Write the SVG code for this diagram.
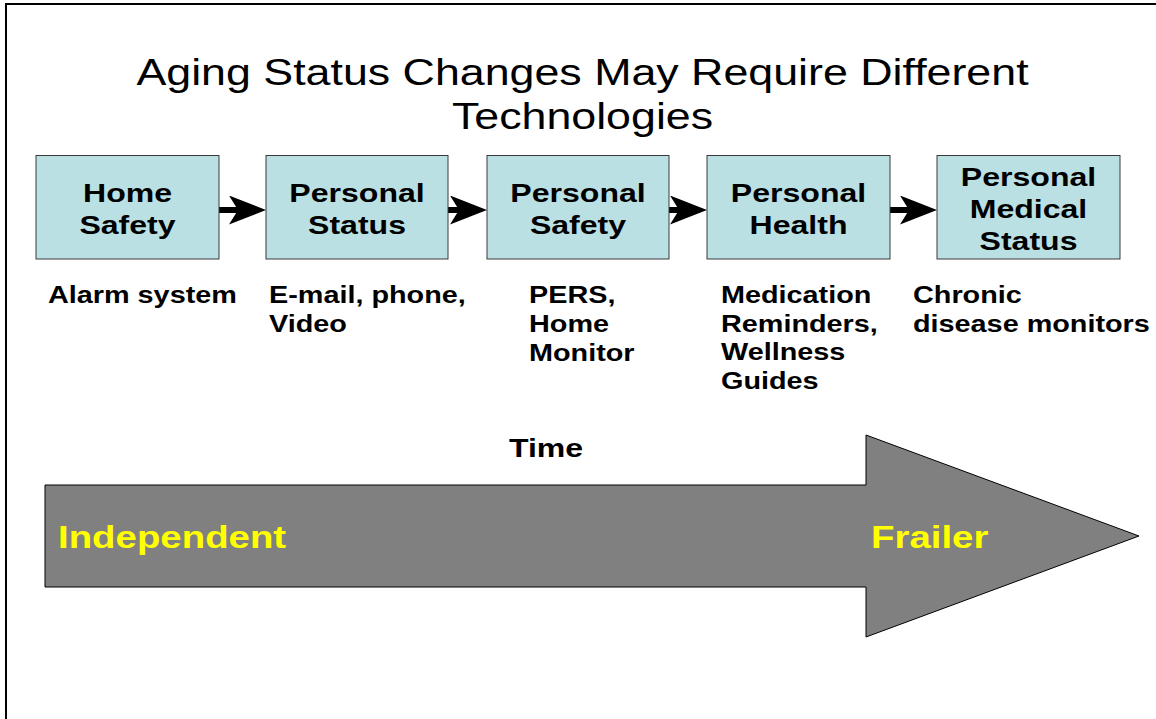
<svg xmlns="http://www.w3.org/2000/svg" width="1156" height="719" viewBox="0 0 1156 719">
<style>
  text { font-family: "Liberation Sans", Arial, sans-serif; }
  .title { font-size: 37.3px; fill: #000; text-anchor: middle; }
  .box { fill: #bbe0e3; stroke: #3a3a3a; stroke-width: 1; }
  .bt { font-size: 26.7px; font-weight: bold; fill: #000; text-anchor: middle; }
  .lb { font-size: 24px; font-weight: bold; fill: #000; }
  .tm { font-size: 26.7px; font-weight: bold; fill: #000; text-anchor: middle; }
  .yl { font-size: 32px; font-weight: bold; fill: #ffff00; }
  .conn { stroke: #000; stroke-width: 6; fill: none; marker-end: url(#ah); }
</style>
<defs>
  <marker id="ah" markerUnits="userSpaceOnUse" markerWidth="37" markerHeight="29" viewBox="0 0 37 29" refX="21" refY="14.5" orient="auto">
    <path d="M0,0 L37,14.5 L0,29 L9,14.5 Z" fill="#000"/>
  </marker>
</defs>
<rect width="1156" height="719" fill="#fff"/>
<path d="M6,722 L6,4 L1160,4" fill="none" stroke="#000" stroke-width="2"/>

<g id="title">
  <text class="title" transform="translate(582.5,85) scale(1.2,1)">Aging Status Changes May Require Different</text>
  <text class="title" transform="translate(582.5,129) scale(1.2,1)">Technologies</text>
</g>

<g id="connectors">
  <line class="conn" x1="219" y1="210" x2="250" y2="210"/>
  <line class="conn" x1="448" y1="210" x2="471" y2="210"/>
  <line class="conn" x1="669" y1="210" x2="691" y2="210"/>
  <line class="conn" x1="890" y1="210" x2="921" y2="210"/>
</g>

<g id="node-home-safety">
  <rect class="box" x="36" y="155.5" width="183" height="103.5"/>
  <text class="bt" transform="translate(127.5,202) scale(1.2,1)">Home</text>
  <text class="bt" transform="translate(127.5,234) scale(1.2,1)">Safety</text>
</g>
<g id="node-personal-status">
  <rect class="box" x="266" y="155.5" width="182" height="103.5"/>
  <text class="bt" transform="translate(357,202) scale(1.2,1)">Personal</text>
  <text class="bt" transform="translate(357,234) scale(1.2,1)">Status</text>
</g>
<g id="node-personal-safety">
  <rect class="box" x="487" y="155.5" width="182" height="103.5"/>
  <text class="bt" transform="translate(578,202) scale(1.2,1)">Personal</text>
  <text class="bt" transform="translate(578,234) scale(1.2,1)">Safety</text>
</g>
<g id="node-personal-health">
  <rect class="box" x="707" y="155.5" width="183" height="103.5"/>
  <text class="bt" transform="translate(798.5,202) scale(1.2,1)">Personal</text>
  <text class="bt" transform="translate(798.5,234) scale(1.2,1)">Health</text>
</g>
<g id="node-personal-medical-status">
  <rect class="box" x="937" y="155.5" width="183" height="103.5"/>
  <text class="bt" transform="translate(1028.5,186) scale(1.2,1)">Personal</text>
  <text class="bt" transform="translate(1028.5,218) scale(1.2,1)">Medical</text>
  <text class="bt" transform="translate(1028.5,250) scale(1.2,1)">Status</text>
</g>

<g id="labels">
  <text class="lb" transform="translate(48,303) scale(1.2,1)">Alarm system</text>
  <text class="lb" transform="translate(269,303) scale(1.2,1)">E-mail, phone,</text>
  <text class="lb" transform="translate(269,332) scale(1.2,1)">Video</text>
  <text class="lb" transform="translate(529,303) scale(1.2,1)">PERS,</text>
  <text class="lb" transform="translate(529,332) scale(1.2,1)">Home</text>
  <text class="lb" transform="translate(529,360.5) scale(1.2,1)">Monitor</text>
  <text class="lb" transform="translate(721,303) scale(1.2,1)">Medication</text>
  <text class="lb" transform="translate(721,332) scale(1.2,1)">Reminders,</text>
  <text class="lb" transform="translate(721,360) scale(1.2,1)">Wellness</text>
  <text class="lb" transform="translate(721,388.5) scale(1.2,1)">Guides</text>
  <text class="lb" transform="translate(913,303) scale(1.2,1)">Chronic</text>
  <text class="lb" transform="translate(913,332) scale(1.2,1)">disease monitors</text>
</g>

<g id="time-arrow">
  <text class="tm" transform="translate(546,457) scale(1.2,1)">Time</text>
  <polygon points="45,485 866,485 866,435 1139,536 866,637 866,587 45,587" fill="#808080" stroke="#000" stroke-width="1"/>
  <text class="yl" transform="translate(58,548) scale(1.2,1)">Independent</text>
  <text class="yl" transform="translate(871,548) scale(1.2,1)">Frailer</text>
</g>
</svg>
